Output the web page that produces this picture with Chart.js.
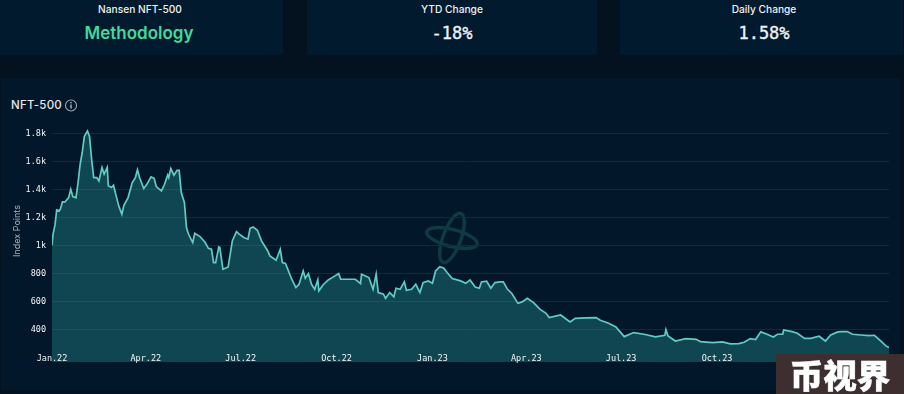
<!DOCTYPE html>
<html><head><meta charset="utf-8">
<style>
html,body{margin:0;padding:0;background:#04121f;width:904px;height:394px;overflow:hidden;font-family:Inter,sans-serif}
.abs{position:absolute}
.card{position:absolute;top:0;height:55px;background:#021a2e;text-align:center;color:#eef2f4}
.card .t{position:absolute;left:0;right:0;top:3px;font-size:10.2px;font-weight:500;line-height:13px}
.card .v{position:absolute;left:0;right:0;top:21px;font:500 17px/25px "DejaVu Sans Mono",monospace;-webkit-text-stroke:.35px #eef2f4}
.card .m{font:600 17px/24px Inter,sans-serif;color:#3fdc9c;-webkit-text-stroke:0}
#panel{left:1px;top:78px;width:899px;height:312px;background:#021729}
#wrap{left:0;top:0;width:904px;height:394px}
#wm{left:776px;top:354px;width:128px;height:40px;background:#3d2f30;color:#fff;font:900 33.5px/40px "Noto Sans CJK SC",sans-serif;text-align:center;-webkit-text-stroke:.5px #fff}
</style></head><body>
<div class="card" style="left:0;width:283px"><div class="t" style="left:-3px">Nansen NFT-500</div><div class="v m" style="left:-5px">Methodology</div></div>
<div class="card" style="left:307px;width:290px"><div class="t">YTD Change</div><div class="v">-18%</div></div>
<div class="card" style="left:620px;width:283px"><div class="t" style="left:5px">Daily Change</div><div class="v" style="left:5px">1.58%</div></div>
<div class="abs" id="panel"></div>
<svg class="abs" style="left:0;top:0" width="904" height="394">
<g fill="none" stroke="#0e3a42" stroke-width="3.5">
<ellipse cx="452" cy="238" rx="26" ry="8.5" transform="rotate(14 452 238)"/>
<ellipse cx="452" cy="238" rx="26" ry="9" transform="rotate(-70 452 238)"/>
</g>
<circle cx="71" cy="105.5" r="5.5" fill="none" stroke="#9aa7b1" stroke-width="1.1"/>
<rect x="70.3" y="104.5" width="1.4" height="4" fill="#b4bec6"/><rect x="70.3" y="102" width="1.4" height="1.4" fill="#b4bec6"/>
</svg>
<div class="abs" style="left:11px;top:98px;font-size:11.5px;font-weight:500;line-height:14px;color:#e4e9ec;letter-spacing:.2px">NFT-500</div>
<div class="abs" id="wrap"><canvas id="c" width="904" height="394"></canvas></div>
<div class="abs" id="wm">币视界</div>
<script src="https://cdn.jsdelivr.net/npm/chart.js@4"></script>
<script>
const days=[0,1,3,4.5,7,8,10,12.5,16,18,20,23,25,27,29,31,34,36,38,40,43,45,48,50,53,54,57,59,62,64,67,69,73,77,80,82,84,88,91,95,98,100,105,108,111,112,114,117,120,122,124,127,129,131,135,137,142,147,150,153,155,157,160,161,164,169,173,177,179,184,188,190,193,197,201,207,209,215,219,221,224,230,234,237,241,243,246,249,252,255,256,260,265,270,275,277,283,291,296,297,304,308,311,313,318,320,324,328,330,334,338,340,345,349,353,356,361,365,368,372,376,379,384,392,397,401,406,410,412,417,421,425,430,433,437,441,447,451,456,462,468,474,477,488,497,502,512,522,526,534,541,549,558,568,579,588,589,591,598,608,618,622,634,643,651,659,664,670,675,680,686,692,696,701,702,710,715,722,728,736,742,747,754,758,763,768,776,784,789,795,800,803];
const indexPoints=[1005,1083,1155,1257,1250,1262,1314,1314,1345,1405,1352,1343,1452,1583,1667,1781,1821,1781,1619,1488,1488,1464,1560,1512,1560,1429,1417,1433,1345,1286,1226,1290,1345,1452,1488,1543,1488,1410,1440,1493,1483,1424,1393,1440,1507,1488,1552,1505,1540,1540,1381,1310,1131,1083,1024,1090,1067,1024,983,976,881,881,993,988,833,850,1036,1102,1088,1060,1048,1126,1136,1112,1036,964,929,898,976,881,874,762,702,726,821,769,802,726,690,757,679,721,757,779,802,762,762,762,731,798,774,690,798,667,655,626,667,636,698,690,743,683,690,726,667,738,750,733,821,852,840,810,767,750,733,757,707,698,743,748,698,738,743,743,690,662,590,600,626,595,548,519,488,507,457,483,486,488,469,448,421,352,381,369,350,362,402,357,321,338,333,317,310,315,300,302,312,338,331,386,369,350,369,369,400,388,376,340,340,355,321,364,386,388,388,369,364,359,362,321,286,274];
const xTickDays=[0,90,181,273,365,455,546,638,730];
const xTickLabels=['Jan.22','Apr.22','Jul.22','Oct.22','Jan.23','Apr.23','Jul.23','Oct.23','Jan.24'];
const yTickValues=[400,600,800,1000,1200,1400,1600,1800];
const yTickLabels=['400','600','800','1k','1.2k','1.4k','1.6k','1.8k'];
const mono='"DejaVu Sans Mono",monospace';
new Chart(document.getElementById('c'),{
 type:'line',
 data:{datasets:[{label:'NFT-500',data:days.map((d,i)=>({x:d,y:indexPoints[i]})),borderColor:'#5fcdc4',borderWidth:1.7,backgroundColor:'rgba(51,178,178,0.3)',fill:'start',pointRadius:0,tension:0}]},
 options:{
  responsive:false,animation:false,
  layout:{padding:{top:100,bottom:32,left:0,right:15}},
  plugins:{legend:{display:false},tooltip:{enabled:false}},
  scales:{
   x:{type:'linear',min:0,max:803,border:{display:false},grid:{display:false,drawTicks:false},
      afterBuildTicks:s=>{s.ticks=xTickDays.map(v=>({value:v}))},
      afterFit:s=>{s.height=0},
      ticks:{z:1,mirror:true,autoSkip:false,maxRotation:0,minRotation:0,padding:-2,color:'#f4f6f8',font:{family:mono,size:8.5},callback:v=>xTickLabels[xTickDays.indexOf(v)]}},
   y:{min:171,max:2042,border:{display:false},grid:{color:'#0e2c40',lineWidth:1,drawTicks:false},
      afterBuildTicks:s=>{s.ticks=yTickValues.map(v=>({value:v}))},
      afterFit:s=>{s.width=52},
      title:{display:true,text:'Index Points',color:'#a9b4bc',font:{family:'Inter',size:9},padding:{top:12,bottom:0}},
      ticks:{padding:6,color:'#f4f6f8',font:{family:mono,size:8.5},callback:v=>yTickLabels[yTickValues.indexOf(v)]}}
  }
 }
});
</script>
</body></html>
